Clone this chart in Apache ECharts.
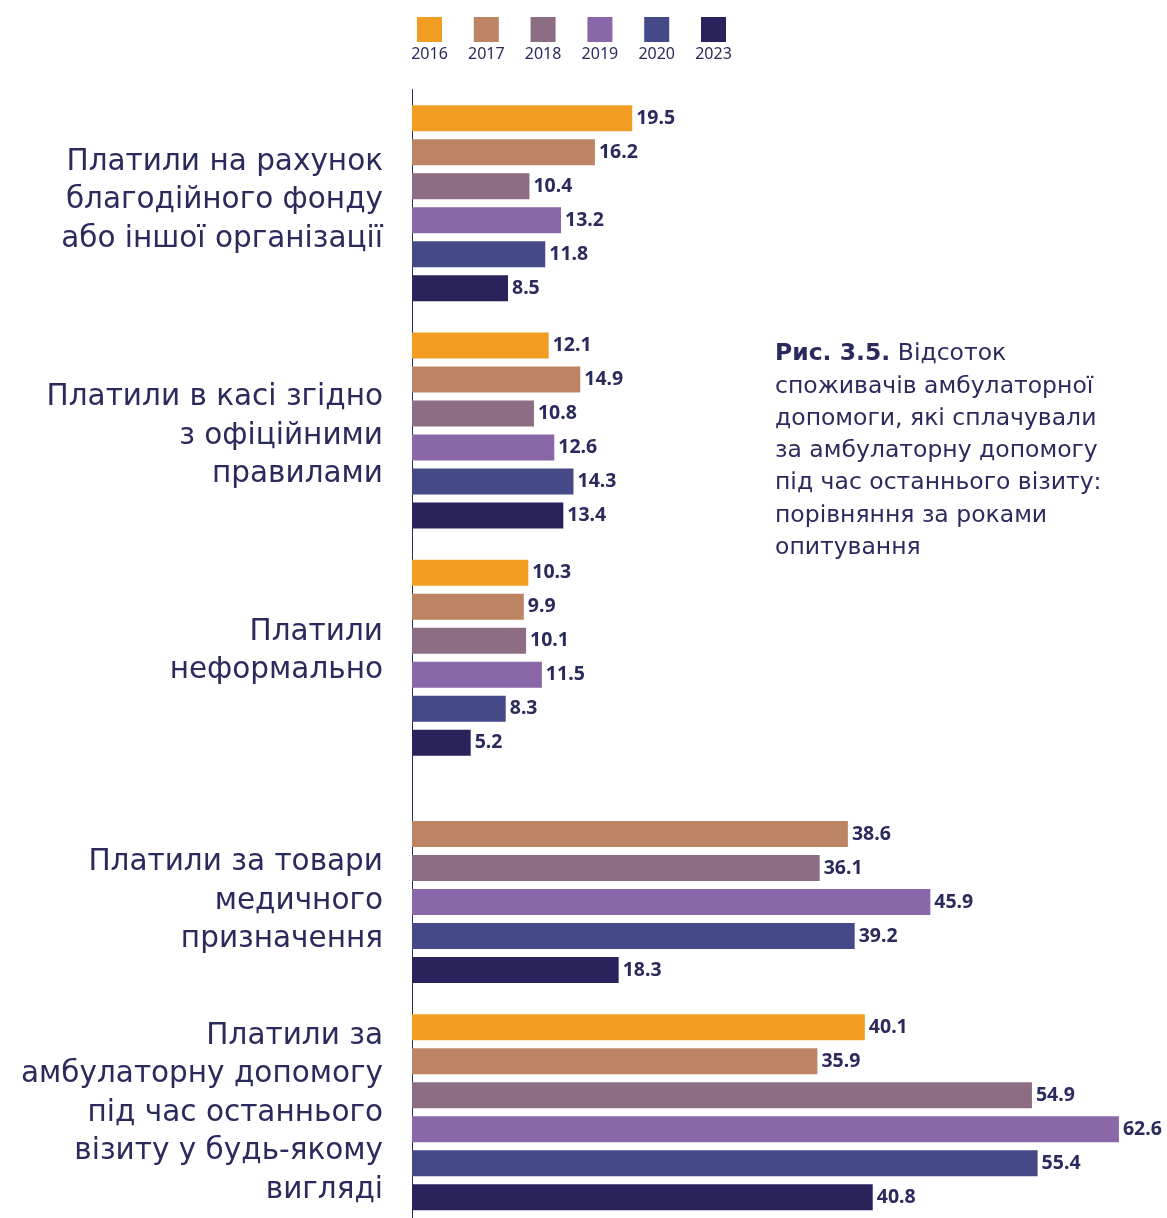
<!DOCTYPE html>
<html>
<head>
<meta charset="utf-8">
<script src="https://cdn.jsdelivr.net/npm/echarts@6/dist/echarts.min.js"></script>
<style>
  html, body { margin: 0; padding: 0; background: #ffffff; }
  #chart { width: 1167px; height: 1218px; }
</style>
</head>
<body>
<div id="chart"></div>
<script>
// Survey years (one series each) and their colours
const years = ['2016', '2017', '2018', '2019', '2020', '2023'];
const yearColors = ['#F09D22', '#BD8463', '#8C6D84', '#8A67A8', '#464987', '#29235B'];

// Payment categories, top to bottom
const categories = [
  'Платили на рахунок\nблагодійного фонду\nабо іншої організації',
  'Платили в касі згідно\nз офіційними\nправилами',
  'Платили\nнеформально',
  'Платили за товари\nмедичного\nпризначення',
  'Платили за\nамбулаторну допомогу\nпід час останнього\nвізиту у будь-якому\nвигляді'
];

// Share of respondents, %, per year (2016 has no value for medical goods)
const v2016 = [19.5, 12.1, 10.3, '-', 40.1];
const v2017 = [16.2, 14.9, 9.9, 38.6, 35.9];
const v2018 = [10.4, 10.8, 10.1, 36.1, 54.9];
const v2019 = [13.2, 12.6, 11.5, 45.9, 62.6];
const v2020 = [11.8, 14.3, 8.3, 39.2, 55.4];
const v2023 = [8.5, 13.4, 5.2, 18.3, 40.8];
const seriesValues = [v2016, v2017, v2018, v2019, v2020, v2023];

const captionBold = 'Рис. 3.5.';
const captionText = ' Відсоток\nспоживачів амбулаторної\nдопомоги, які сплачували\nза амбулаторну допомогу\nпід час останнього візиту:\nпорівняння за роками\nопитування';

const ink = '#2B2A5C';
const fontFamily = '"Noto Sans", "DejaVu Sans", sans-serif';
const wideFont = '"DejaVu Sans", "Noto Sans", sans-serif';

// Vertical nudge of each category label (px, positive = down)
const labelShift = [-2.5, 5.5, -6.5, 16, 1];

// Spacer line styles used to nudge the labels
const spacerRich = {};
labelShift.forEach(function (d, i) {
  const h = Math.max(1, Math.abs(d) * 2);
  spacerRich['sp' + i] = { fontSize: 1, lineHeight: h, height: h };
});

const chart = echarts.init(document.getElementById('chart'), null, { renderer: 'canvas' });

// Legend: coloured squares with the year underneath
const legendItems = [];
years.forEach(function (y, i) {
  const x0 = 417 + i * 56.8;
  legendItems.push({
    type: 'rect',
    shape: { x: x0, y: 17, width: 25, height: 25 },
    style: { fill: yearColors[i] }
  });
  legendItems.push({
    type: 'text',
    x: x0 + 12.5,
    y: 54,
    style: {
      text: y,
      fill: ink,
      font: '16px ' + fontFamily,
      align: 'center',
      verticalAlign: 'middle'
    }
  });
});

const option = {
  backgroundColor: '#ffffff',
  animation: false,
  textStyle: { fontFamily: fontFamily },
  grid: {
    left: 412,
    top: 89.6,
    width: 734,
    height: 1136.25,
    outerBoundsMode: 'none',
    containLabel: false
  },
  xAxis: {
    type: 'value',
    min: 0,
    max: 65,
    show: false,
    splitLine: { show: false }
  },
  yAxis: {
    type: 'category',
    inverse: true,
    data: categories,
    axisLine: { show: true, lineStyle: { color: ink, width: 1 } },
    axisTick: { show: false },
    splitLine: { show: false },
    axisLabel: {
      color: ink,
      fontSize: 29.5,
      lineHeight: 38.5,
      margin: 29,
      align: 'right',
      fontFamily: wideFont,
      rich: spacerRich,
      formatter: function (value, index) {
        const d = labelShift[index] || 0;
        if (Math.abs(d) < 0.5) return value;
        return d > 0
          ? '{sp' + index + '| }\n' + value
          : value + '\n{sp' + index + '| }';
      }
    }
  },
  series: years.map(function (y, i) {
    return {
      name: y,
      type: 'bar',
      data: seriesValues[i],
      barWidth: 26,
      barGap: '30.77%',
      itemStyle: { color: yearColors[i] },
      label: {
        show: true,
        position: 'right',
        distance: 4,
        color: ink,
        fontSize: 19.5,
        fontWeight: 'bold',
        fontFamily: fontFamily
      }
    };
  }),
  graphic: legendItems.concat([
    {
      type: 'text',
      left: 775,
      top: 338,
      style: {
        text: '{b|' + captionBold + '}' + captionText,
        fill: ink,
        font: '23.5px ' + wideFont,
        lineHeight: 32.3,
        rich: {
          b: { fontWeight: 'bold', fontSize: 23.5, fill: ink, lineHeight: 32.3, fontFamily: wideFont }
        }
      }
    }
  ])
};

chart.setOption(option);
</script>
</body>
</html>
